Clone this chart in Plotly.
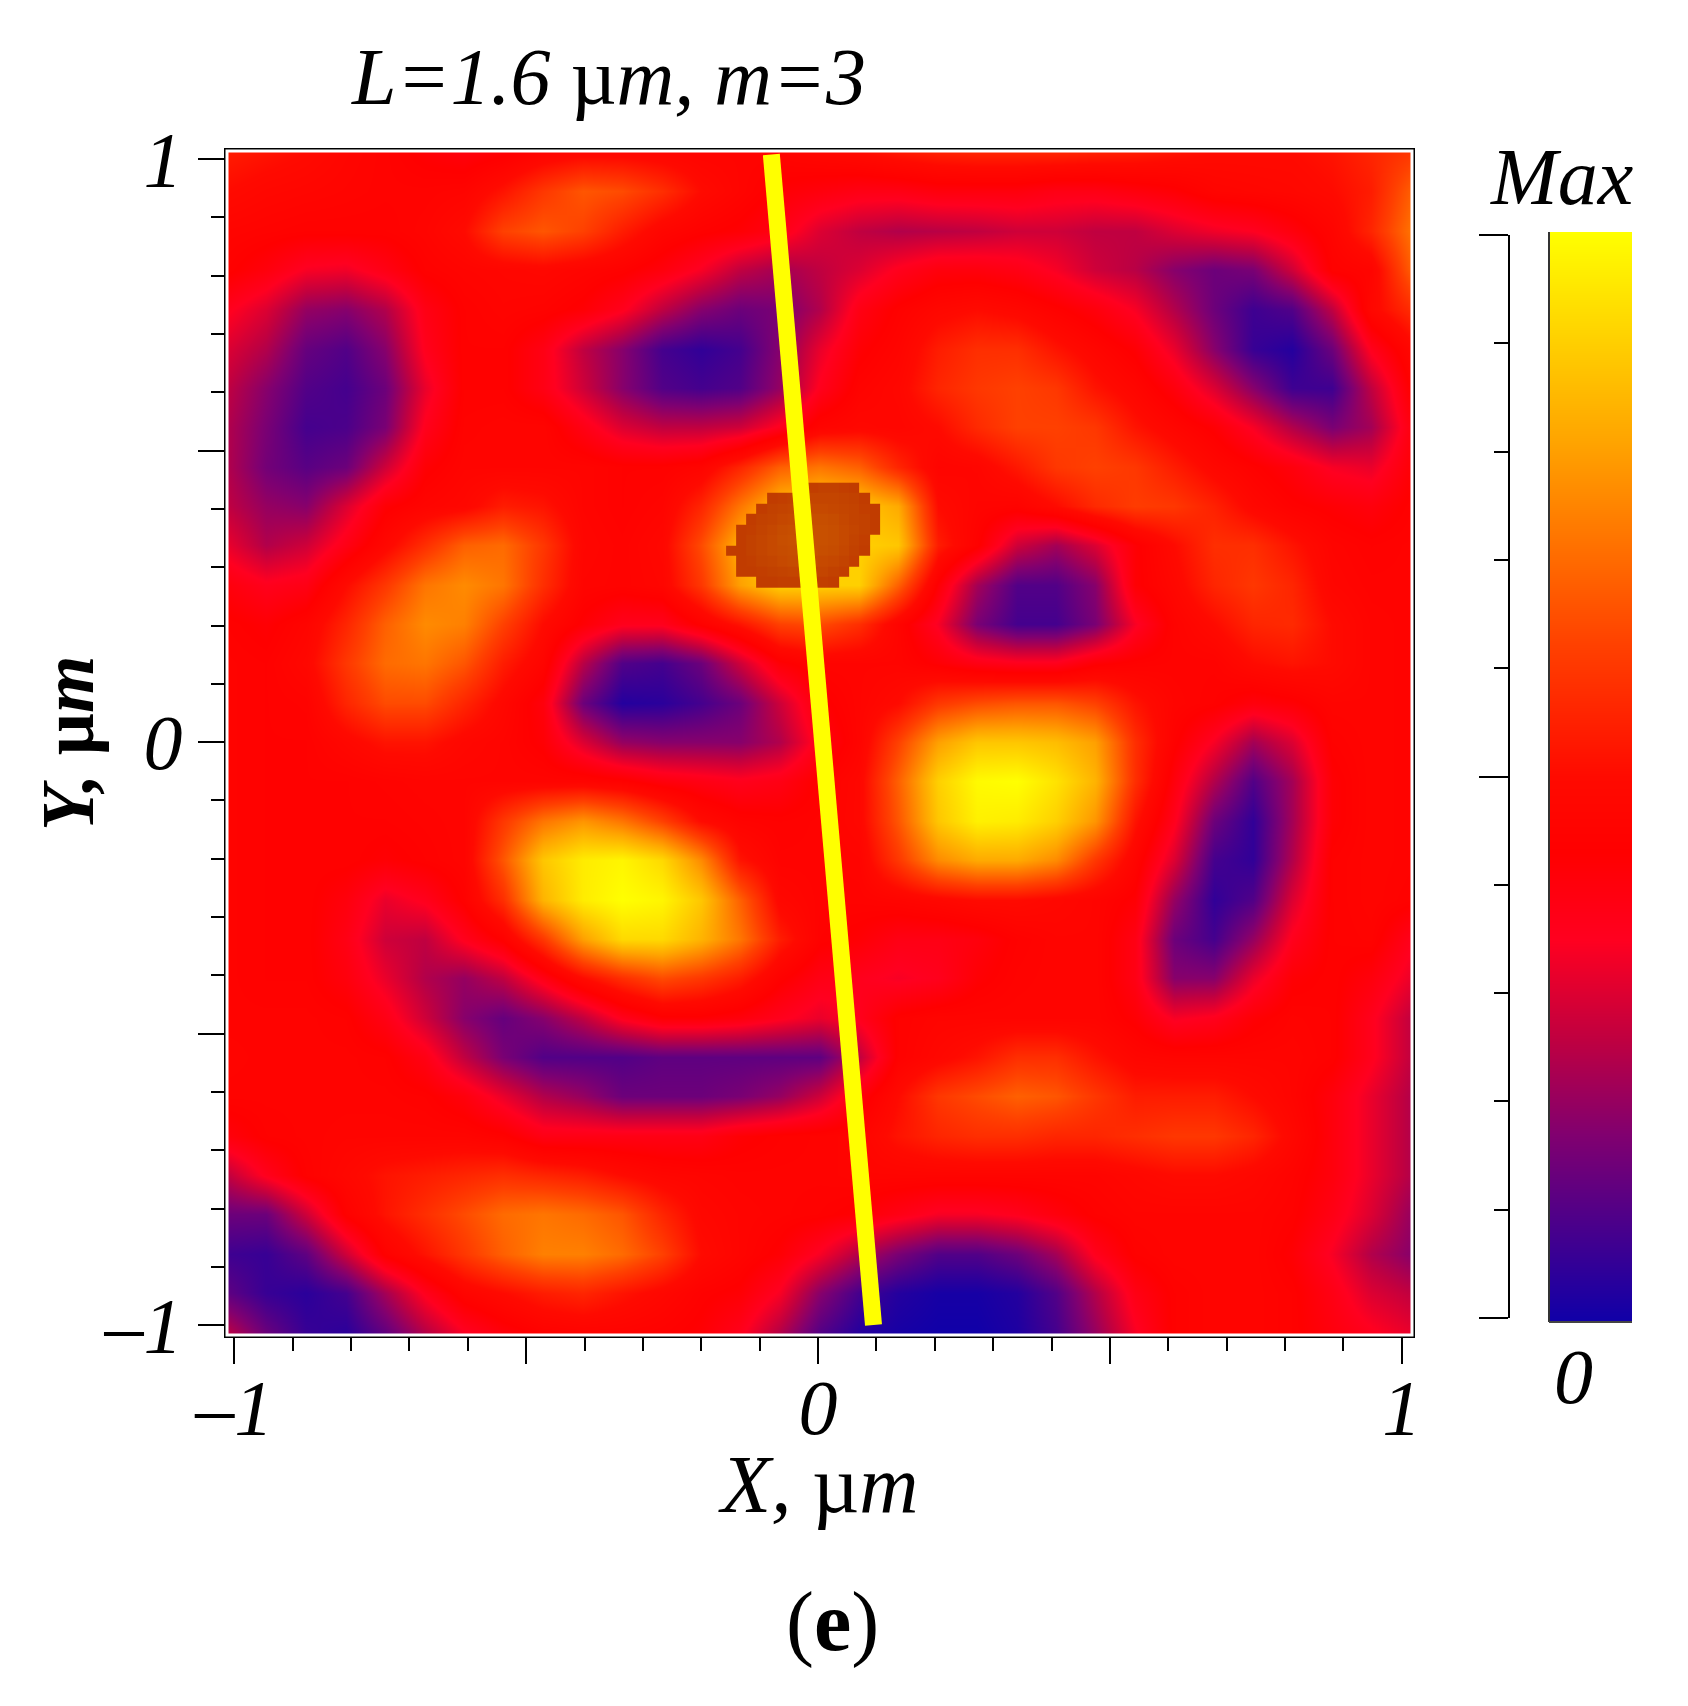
import plotly.graph_objects as go

W = 1688
H = 1706

# Intensity, percent of the bar, top row first
rows = [
    [54,52,50,47,45,42,40,42,46,48,48,47,46,46,46,48,50,53,55,56,56,56,55,54,52,50,50,50,52,56,60],
    [50,48,47,46,45,45,46,52,60,66,64,58,50,46,42,40,38,38,40,40,40,38,38,40,42,46,47,48,50,54,68],
    [46,45,44,44,44,46,50,62,66,62,54,47,44,42,38,30,26,24,25,26,28,28,26,26,30,33,35,40,46,56,72],
    [44,40,34,33,38,44,46,47,48,46,44,40,34,26,22,26,30,36,40,40,38,34,28,25,18,14,16,28,44,46,68],
    [36,30,20,18,24,38,44,46,45,42,36,26,18,14,16,24,38,44,48,50,48,44,40,34,24,14,7,10,26,48,58],
    [30,24,13,10,18,36,44,44,38,26,18,8,5,8,18,32,42,46,54,58,58,52,47,42,32,18,6,3,14,36,48],
    [26,18,10,8,14,32,44,44,38,28,18,10,8,10,20,36,45,48,56,60,62,60,52,47,40,30,18,7,7,26,44],
    [24,16,8,9,16,36,45,46,46,38,30,26,26,28,36,46,48,47,50,57,62,62,60,52,47,42,34,24,16,22,40],
    [24,15,11,14,28,42,46,46,46,46,44,44,46,56,68,72,68,56,46,47,53,60,62,60,54,48,44,40,34,32,42],
    [26,20,18,30,42,46,48,54,52,46,44,46,56,72,86,90,88,82,50,46,45,50,57,61,60,55,48,44,42,40,44],
    [32,24,28,38,48,58,68,70,60,47,45,48,64,84,90,90,90,88,54,44,28,22,30,42,50,58,58,52,46,44,45],
    [40,36,38,50,60,72,76,72,58,46,45,47,60,80,90,90,90,68,42,22,10,10,18,42,48,56,60,56,47,45,45],
    [44,42,46,56,68,76,74,62,50,42,36,36,44,52,62,64,58,46,34,16,8,8,16,34,45,50,56,57,50,46,45],
    [45,44,48,60,70,72,66,54,46,25,10,8,14,28,42,46,46,46,42,38,36,36,42,44,45,45,50,52,50,46,45],
    [45,44,45,56,64,64,56,48,40,14,3,4,8,14,28,42,46,50,60,64,66,66,62,52,46,44,40,42,46,46,45],
    [45,44,44,48,52,52,48,46,42,30,20,18,18,18,24,38,46,62,80,88,88,86,80,58,44,34,22,30,44,46,45],
    [45,44,44,44,45,46,46,46,46,46,44,40,38,36,38,44,48,68,90,99,100,94,84,58,40,24,10,22,42,46,45],
    [45,44,44,44,44,45,46,60,72,78,72,62,50,45,44,45,48,66,88,97,96,90,78,52,36,14,5,22,42,46,45],
    [45,44,44,44,42,44,46,66,88,96,98,92,76,52,45,45,46,60,76,82,82,76,60,46,30,8,5,24,44,46,45],
    [45,44,44,40,32,36,44,58,84,96,100,98,88,68,48,45,45,46,48,50,50,48,46,42,20,5,10,30,44,46,44],
    [45,44,44,38,28,26,36,44,60,80,92,92,84,72,54,44,42,38,38,40,44,46,46,38,14,8,20,36,44,45,36],
    [45,44,44,40,32,24,20,26,38,50,58,64,60,54,44,38,36,34,36,42,45,46,46,38,18,18,32,42,44,40,32],
    [45,45,45,44,38,28,18,13,18,26,36,42,42,40,36,32,36,44,46,46,46,46,46,42,34,36,42,45,44,36,26],
    [46,45,45,45,44,38,26,16,10,10,10,12,12,12,12,12,26,44,48,52,58,58,52,47,46,46,46,46,44,36,26],
    [45,45,45,45,45,44,40,32,24,20,14,14,14,16,20,28,40,50,60,64,68,66,60,54,54,54,50,46,40,32,24],
    [40,44,45,46,46,46,46,44,38,38,38,38,38,42,44,45,46,52,56,58,58,56,56,58,60,60,56,48,40,32,24],
    [26,36,44,48,52,54,56,58,56,54,50,47,46,45,45,45,46,46,46,46,46,46,46,48,50,50,48,45,40,32,24],
    [14,14,28,44,52,58,64,70,72,70,66,56,48,46,45,44,42,38,34,34,36,40,44,46,46,46,46,44,38,30,20],
    [7,6,12,28,44,52,60,68,74,74,70,62,50,46,42,34,24,16,10,10,14,22,36,44,46,46,46,42,34,24,18],
    [12,6,4,8,22,36,46,50,54,56,52,48,44,42,34,18,8,3,1,1,3,10,24,38,44,46,46,44,38,30,26],
    [26,14,6,4,12,24,34,40,44,45,45,44,42,36,24,10,3,1,0,0,2,8,20,34,44,46,46,44,40,36,32],
]

x_grid = [-1.0125,-0.945,-0.877,-0.8095,-0.742,-0.674,-0.6065,-0.539,-0.471,-0.4035,-0.336,-0.268,-0.2005,-0.133,-0.065,
          0.0025,0.07,0.1375,0.205,0.2725,0.34,0.4075,0.475,0.5425,0.61,0.6775,0.745,0.8125,0.88,0.9475,1.0175]
y_grid = [1.0125,0.945,0.8775,0.81,0.7425,0.675,0.6075,0.54,0.4725,0.405,0.3375,0.27,0.2025,0.135,0.0675,
          0.0,-0.0675,-0.135,-0.2025,-0.27,-0.3375,-0.405,-0.4725,-0.54,-0.6075,-0.675,-0.7425,-0.81,-0.8775,-0.945,-1.015]

# Clipped patch at the centre, it is drawn flat and blocky in the original
brown_x = [-0.149,-0.132,-0.114,-0.097,-0.079,-0.061,-0.044,-0.026,-0.008,0.009,0.027,0.044,0.062,0.080,0.097]
brown_y = [0.436,0.418,0.400,0.382,0.364,0.346,0.328,0.310,0.292,0.274]
N = None
brown_z = [
    [N,N,N,N,N,N,N,.2,.2,.3,.3,.2,.1,N,N],
    [N,N,N,N,.1,.2,.3,.4,.5,.5,.5,.4,.3,.1,N],
    [N,N,N,.1,.3,.4,.5,.6,.7,.7,.6,.5,.4,.2,.1],
    [N,N,.1,.3,.4,.6,.7,.8,.9,.9,.8,.6,.4,.3,.1],
    [N,.1,.2,.4,.6,.8,.9,1,1,1,.9,.7,.5,.3,.1],
    [N,.1,.3,.5,.7,.9,1,1,1,1,.9,.7,.4,.2,N],
    [.1,.1,.3,.5,.7,.8,.9,1,1,.9,.8,.6,.3,.1,N],
    [N,.1,.2,.4,.5,.7,.8,.8,.8,.7,.6,.4,.2,N,N],
    [N,.1,.1,.2,.3,.4,.5,.5,.5,.5,.3,.2,N,N,N],
    [N,N,N,.1,.1,.2,.2,.2,.2,.2,.1,N,N,N,N],
]

bar_values = [0,5,10,15,20,25,30,35,40,45,50,55,60,65,70,75,80,85,90,95,100]
bar_y = [0,0.05,0.1,0.15,0.2,0.25,0.3,0.35,0.4,0.45,0.5,0.55,0.6,0.65,0.7,0.75,0.8,0.85,0.9,0.95,1]

line_x = [-0.08, 0.095]
line_y = [1.008, -1.0]

heat_scale = [
    [0.0, "#1000a8"],
    [0.17, "#800070"],
    [0.26, "#c00040"],
    [0.35, "#ff0020"],
    [0.43, "#ff0000"],
    [0.50, "#ff0a00"],
    [0.62, "#ff4000"],
    [0.81, "#ffa500"],
    [1.0, "#ffff00"],
]
FONT = "Liberation Serif"


def xp(px):
    return px / W


def yp(py):
    return 1 - py / H


def label(text, px, py, size, angle=0):
    fig.add_annotation(text=text, xref="paper", yref="paper", x=xp(px), y=yp(py),
                       showarrow=False, textangle=angle, xanchor="center", yanchor="middle",
                       font=dict(family=FONT, size=size, color="black"))


fig = go.Figure()

# Main map -----------------------------------------
fig.add_trace(go.Heatmap(x=x_grid, y=y_grid[::-1], z=rows[::-1], zmin=0, zmax=100,
                         colorscale=heat_scale, zsmooth="best", showscale=False, hoverinfo="skip"))
fig.add_trace(go.Heatmap(x=brown_x, y=brown_y, z=brown_z, zmin=0, zmax=1,
                         colorscale=[[0, "#c03a00"], [1, "#c85000"]], showscale=False, hoverinfo="skip"))
fig.add_trace(go.Scatter(x=line_x, y=line_y, mode="lines", line=dict(color="#ffff00", width=17),
                         hoverinfo="skip", showlegend=False))

# Colour bar ---------------------------------------
fig.add_trace(go.Heatmap(x=[0, 1], y=bar_y, z=[[v, v] for v in bar_values], zmin=0, zmax=100,
                         colorscale=heat_scale, zsmooth="best", showscale=False, hoverinfo="skip",
                         xaxis="x2", yaxis="y2"))
# invisible, only there so that the tick axis gets drawn
fig.add_trace(go.Scatter(x=[0, 1], y=[0, 1], mode="lines", line=dict(width=0), opacity=0,
                         hoverinfo="skip", showlegend=False, xaxis="x2", yaxis="y3"))

tick_font = dict(family=FONT, size=78, color="black", style="italic")
main_ticks = [-1, -0.5, 0, 0.5, 1]
main_text = ["–1", "", "0", "", "1"]

fig.update_layout(
    width=W, height=H, autosize=False,
    margin=dict(l=0, r=0, t=0, b=0),
    paper_bgcolor="white", plot_bgcolor="rgba(0,0,0,0)", showlegend=False,
    xaxis=dict(domain=[xp(227), xp(1412)], range=[-1.0125, 1.0175], tickmode="array", automargin=False,
               tickvals=main_ticks, ticktext=main_text, ticks="outside", ticklen=26, tickwidth=2,
               tickcolor="black", tickfont=tick_font, tickangle=0, ticklabelstandoff=-24,
               showgrid=False, zeroline=False, showline=True, linecolor="black", linewidth=3, mirror=True,
               minor=dict(ticks="outside", dtick=0.1, tick0=0, ticklen=13, tickwidth=2,
                          tickcolor="black", showgrid=False)),
    yaxis=dict(domain=[yp(1335), yp(151)], range=[-1.017, 1.014], tickmode="array", automargin=False,
               tickvals=main_ticks, ticktext=main_text, ticks="outside", ticklen=26, tickwidth=2,
               tickcolor="black", tickfont=tick_font, showgrid=False, zeroline=False,
               showline=True, linecolor="black", linewidth=3, mirror=True,
               minor=dict(ticks="outside", dtick=0.1, tick0=0, ticklen=13, tickwidth=2,
                          tickcolor="black", showgrid=False)),
    xaxis2=dict(domain=[xp(1550), xp(1632)], range=[0, 1], visible=False, anchor="y2", automargin=False),
    yaxis2=dict(domain=[yp(1321), yp(232)], range=[0, 1], visible=False, anchor="x2", automargin=False),
    yaxis3=dict(domain=[yp(1318), yp(235)], range=[0, 1], anchor="free", position=xp(1509), side="left",
                automargin=False, tickmode="array", tickvals=[0, 0.5, 1], showticklabels=False,
                ticks="outside", ticklen=29, tickwidth=2, tickcolor="black", showgrid=False, zeroline=False,
                showline=True, linecolor="black", linewidth=2,
                minor=dict(ticks="outside", dtick=0.1, tick0=0, ticklen=14, tickwidth=2,
                           tickcolor="black", showgrid=False)),
)

# thin white line inside the frame, and the dark edges of the bar
fig.add_shape(type="rect", xref="paper", yref="paper", x0=xp(227), x1=xp(1412), y0=yp(1335), y1=yp(151),
              line=dict(color="white", width=3), layer="above")
fig.add_shape(type="line", xref="paper", yref="paper", x0=xp(1549), x1=xp(1549), y0=yp(1322), y1=yp(232),
              line=dict(color="#333333", width=2), layer="above")
fig.add_shape(type="line", xref="paper", yref="paper", x0=xp(1549), x1=xp(1632), y0=yp(1322), y1=yp(1322),
              line=dict(color="#444444", width=2), layer="above")

# Texts --------------------------------------------
label("<i>L=1.6 </i>µ<i>m, m=3</i>", 608, 77, 80)
label("<i>Max</i>", 1561, 177, 80)
label("<i>0</i>", 1573, 1376, 78)
label("<i>X, </i>µ<i>m</i>", 818, 1484, 82)
label("<b><i>Y, </i>µ<i>m</i></b>", 68, 743, 74, angle=-90)
label("(<b>e</b>)", 832, 1622, 84)

fig.write_html("out.html", post_script="document.body.style.margin='0';",
               config=dict(displayModeBar=False))
